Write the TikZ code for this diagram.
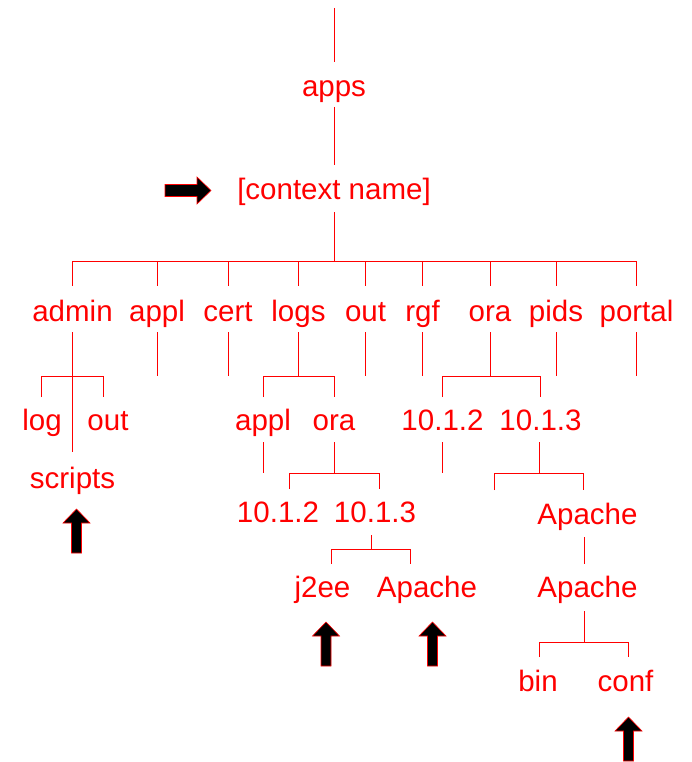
\documentclass[tikz,border=0pt]{standalone}
\usepackage{fontspec}
\setmainfont{Liberation Sans}
\begin{document}
\begin{tikzpicture}[x=1pt,y=-1pt,
  lbl/.style={anchor=base,inner sep=0pt,text=red,font=\fontsize{29.5}{34}\selectfont},
  conn/.style={draw=red,line width=1pt},
  blk/.style={fill=black,draw=red,line width=0.6pt,line join=miter},
  uparrow/.pic={\path[blk] (0,0) -- (13.5,14) -- (5,14) -- (5,44) -- (-5,44) -- (-5,14) -- (-13.5,14) -- cycle;}]
\useasboundingbox (0,0) rectangle (692,762);
% nodes
\node[lbl] (apps) at (334,97) {apps};
\node[lbl] (ctx) at (334,199) {[context name]};
\node[lbl] (admin) at (72.5,321) {admin};
\node[lbl] (appl) at (157,321) {appl};
\node[lbl] (cert) at (228,321) {cert};
\node[lbl] (logs) at (298.5,321) {logs};
\node[lbl] (out) at (365.5,321) {out};
\node[lbl] (rgf) at (422.5,321) {rgf};
\node[lbl] (ora) at (490,321) {ora};
\node[lbl] (pids) at (556,321) {pids};
\node[lbl] (portal) at (636.5,321) {portal};
\node[lbl] (log) at (42,430) {log};
\node[lbl] (aout) at (108,430) {out};
\node[lbl] (scripts) at (72.5,488) {scripts};
\node[lbl] (lappl) at (263,430) {appl};
\node[lbl] (lora) at (334,430) {ora};
\node[lbl] (ov2) at (442.5,430) {10.1.2};
\node[lbl] (ov3) at (540.5,430) {10.1.3};
\node[lbl] (lv2) at (278,522) {10.1.2};
\node[lbl] (lv3) at (375,522) {10.1.3};
\node[lbl] (oapache) at (587.5,524) {Apache};
\node[lbl] (j2ee) at (322.5,597) {j2ee};
\node[lbl] (lapache) at (427,597) {Apache};
\node[lbl] (oapache2) at (587.5,597) {Apache};
\node[lbl] (bin) at (538,691) {bin};
\node[lbl] (conf) at (625.5,691) {conf};
% connectors
\draw[conn] (apps |- 0,8) -- (apps |- 0,62);
\draw[conn] (apps |- 0,107) -- (ctx |- 0,165);
\draw[conn] (ctx |- 0,212) -- (ctx |- 0,261);
\draw[conn] (admin |- 0,261) -- (portal |- 0,261);
\foreach \n in {admin,appl,cert,logs,out,rgf,ora,pids,portal}{
  \draw[conn] (\n |- 0,261) -- (\n |- 0,286);
  \draw[conn] (\n |- 0,332) -- (\n |- 0,376);
}
% admin
\draw[conn] (admin |- 0,376) -- (admin |- 0,452);
\draw[conn] (41,397) -- (41,376) -- (103,376) -- (103,397);
% logs
\draw[conn] (lappl |- 0,397) -- (lappl |- 0,376) -- (lora |- 0,376) -- (lora |- 0,397);
% ora
\draw[conn] (ov2 |- 0,397) -- (ov2 |- 0,376) -- (ov3 |- 0,376) -- (ov3 |- 0,397);
% level 2 below
\draw[conn] (lappl |- 0,442) -- (lappl |- 0,473);
\draw[conn] (lora |- 0,442) -- (lora |- 0,473);
\draw[conn] (289,489) -- (289,473) -- (379,473) -- (379,489);
\draw[conn] (ov2 |- 0,442) -- (ov2 |- 0,473);
\draw[conn] (539,442) -- (539,473);
\draw[conn] (494,490) -- (494,473) -- (583,473) -- (583,490);
% logs/ora/10.1.3
\draw[conn] (371,535) -- (371,549);
\draw[conn] (331,564) -- (331,549) -- (410,549) -- (410,564);
% ora/10.1.3/Apache
\draw[conn] (584,537) -- (584,564);
\draw[conn] (584,611) -- (584,642);
\draw[conn] (539,657) -- (539,642) -- (628,642) -- (628,657);
% block arrows
\path[blk] (211,190.5) -- (197,177) -- (197,184.5) -- (165,184.5) -- (165,196.5) -- (197,196.5) -- (197,204) -- cycle;
\pic at (76.5,509) {uparrow};
\pic at (326,622) {uparrow};
\pic at (432.5,622) {uparrow};
\pic at (628.5,717) {uparrow};
\end{tikzpicture}
\end{document}
